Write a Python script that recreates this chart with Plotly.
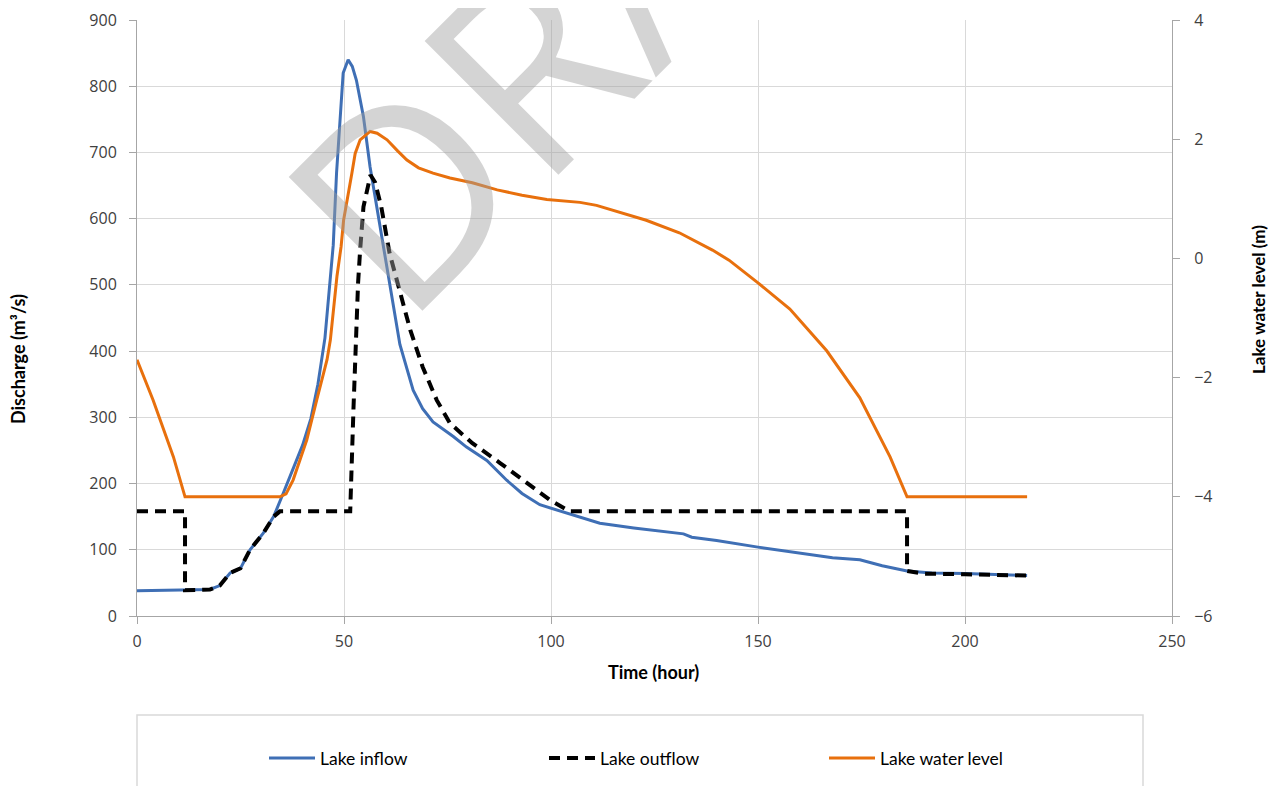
import plotly.graph_objects as go

# ---------------- data ----------------
inflow_time = [0, 5, 10, 15, 17.6, 20, 22.5, 25, 27.3, 30.5, 33, 35.3, 37.7, 40, 42, 43.7,
               45.4, 46.6, 47.4, 48.2, 49, 49.8, 51, 52, 53, 54.7, 56.3, 58.7, 61, 63.5,
               66.7, 69, 71.5, 76.4, 79.6, 84.5, 89.3, 93, 97.3, 103.8, 111.8, 120, 126,
               132, 134, 140, 150, 160, 168, 174.6, 180, 186, 192, 200, 215]
inflow = [38, 38.5, 39, 39, 40, 46, 65, 72, 100, 125, 150, 185, 222, 258, 298, 350,
          420, 503, 560, 669, 744, 820, 840, 830, 809, 754, 678, 588, 500, 410,
          341, 313, 293, 271, 255, 235, 205, 185, 168, 155, 140, 133, 128,
          124, 119, 114, 104, 95, 88, 85, 76, 68, 65, 64, 61]

outflow_time = [0, 11.6, 11.6, 17.6, 20, 22.5, 25, 27.3, 30.5, 33, 34.5, 51.5, 52.3, 52.7,
                53.4, 53.9, 54.7, 56.4, 57.5, 59, 61, 63.5, 66, 69, 72.4, 75.6, 81, 87.7,
                94.2, 99.8, 104.5, 186, 186, 190, 200, 215]
outflow = [158, 158, 39, 40, 46, 65, 72, 100, 125, 150, 158, 158, 315, 402,
           503, 553, 618, 666, 655, 618, 548, 490, 432, 376, 326, 291, 261, 231,
           201, 175, 158, 158, 68, 64, 63, 61]

level_time = [0, 3.9, 8.8, 11.6, 34.5, 36, 37.7, 41, 43.4, 45.9, 46.7, 47.3, 48.3, 49.3,
              49.9, 51.9, 52.7, 53.9, 56.3, 58, 60.4, 63, 65.2, 68, 71.5, 75.6, 81, 87,
              93, 99, 103, 107, 111, 115, 123, 131, 139, 143, 150, 157.7, 166.6, 174.6,
              181.9, 186, 215]
level = [-1.70, -2.38, -3.33, -4.0, -4.0, -3.95, -3.72, -3.05, -2.38, -1.70, -1.37, -0.98,
         -0.30, 0.20, 0.64, 1.43, 1.76, 1.99, 2.13, 2.10, 1.99, 1.80, 1.65, 1.52, 1.43,
         1.35, 1.27, 1.15, 1.06, 0.99, 0.97, 0.94, 0.89, 0.81, 0.64, 0.43, 0.14, -0.03,
         -0.41, -0.85, -1.55, -2.34, -3.33, -4.0, -4.0]

x_ticks = [0, 50, 100, 150, 200, 250]
left_ticks = [0, 100, 200, 300, 400, 500, 600, 700, 800, 900]
right_ticks = [-6, -4, -2, 0, 2, 4]

BLUE = "#3F6FB5"
ORANGE = "#E8700D"
FONT = "Lato"
TICKFONT = "Open Sans"
TXT = "#404040"
GRID = "#D9D9D9"
AXIS = "#A6A6A6"

fig = go.Figure()
fig.add_trace(go.Scatter(x=inflow_time, y=inflow, name="Lake inflow", mode="lines",
                         line=dict(color=BLUE, width=3)))
fig.add_trace(go.Scatter(x=outflow_time, y=outflow, name="Lake outflow", mode="lines",
                         line=dict(color="black", width=4, dash="11px,7px")))
fig.add_trace(go.Scatter(x=level_time, y=level, name="Lake water level", mode="lines",
                         line=dict(color=ORANGE, width=3), yaxis="y2"))

# page has an 8px body margin -> figure is 8px smaller on each side
OFF = 8
PAGE_W, PAGE_H = 1276, 794
W, H = PAGE_W - 2 * OFF, PAGE_H - 2 * OFF
PL, PR, PT, PB = 137, 1172, 20, 616          # plot area in page pixels
L, T = PL - OFF, PT - OFF
R, B = W - (PR - OFF), H - (PB - OFF)
PW, PH = PR - PL, PB - PT


def px2paper(px, py):
    return (px - PL) / PW, (PB - py) / PH


axis_common = dict(showline=True, linecolor=AXIS, linewidth=1, ticks="outside", ticklen=7,
                   tickcolor=AXIS, zeroline=False, tickfont=dict(family=TICKFONT, size=16, color=TXT))

fig.update_layout(
    width=W, height=H,
    margin=dict(l=L, r=R, t=T, b=B, autoexpand=False),
    paper_bgcolor="white", plot_bgcolor="white",
    font=dict(family=FONT, size=17, color=TXT),
    showlegend=True,
    xaxis=dict(range=[0, 250], tickvals=x_ticks, showgrid=True, gridcolor=GRID, gridwidth=1,
               ticklabelstandoff=4, **axis_common),
    yaxis=dict(range=[0, 900], tickvals=left_ticks, showgrid=True, gridcolor=GRID, gridwidth=1,
               ticklabelstandoff=9, **axis_common),
    yaxis2=dict(range=[-6, 4], tickvals=right_ticks, overlaying="y", side="right",
                showgrid=False, ticklabelstandoff=11, **axis_common),
    legend=dict(orientation="h", xref="paper", yref="paper",
                x=px2paper(264, 0)[0], y=px2paper(0, 758)[1], xanchor="left", yanchor="middle",
                bgcolor="rgba(0,0,0,0)", borderwidth=0, entrywidth=219, entrywidthmode="pixels",
                itemwidth=46,
                font=dict(family=FONT, size=17.5, color="#000000")),
)

# legend frame
x0, y0 = px2paper(137, 715)
x1, y1 = px2paper(1143, 810)
fig.add_shape(type="rect", xref="paper", yref="paper", x0=x0, x1=x1, y0=y1, y1=y0,
              line=dict(color=GRID, width=1.5), fillcolor="rgba(0,0,0,0)", layer="below")

# axis titles
ax, ay = px2paper(653, 672)
fig.add_annotation(text="<b>Time (hour)</b>", x=ax, y=ay, xref="paper", yref="paper",
                   showarrow=False, xanchor="center", yanchor="middle",
                   font=dict(family=FONT, size=18, color="#000000"))
ax, ay = px2paper(18, 359)
fig.add_annotation(text="<b>Discharge (m³/s)</b>", x=ax, y=ay, xref="paper", yref="paper",
                   showarrow=False, textangle=-90, xanchor="center", yanchor="middle",
                   font=dict(family=FONT, size=18, color="#000000"))
ax, ay = px2paper(1258, 300)
fig.add_annotation(text="<b>Lake water level (m)</b>", x=ax, y=ay, xref="paper", yref="paper",
                   showarrow=False, textangle=-90, xanchor="center", yanchor="middle",
                   font=dict(family=FONT, size=17, color="#000000"))

# watermark
ax, ay = px2paper(617, -28)
fig.add_annotation(text="DRAFT", x=ax, y=ay, xref="paper", yref="paper",
                   showarrow=False, textangle=-45, xanchor="center", yanchor="middle",
                   font=dict(family="Open Sans", size=265, color="rgba(160,160,160,0.45)"))

fig.write_html("out.html")
